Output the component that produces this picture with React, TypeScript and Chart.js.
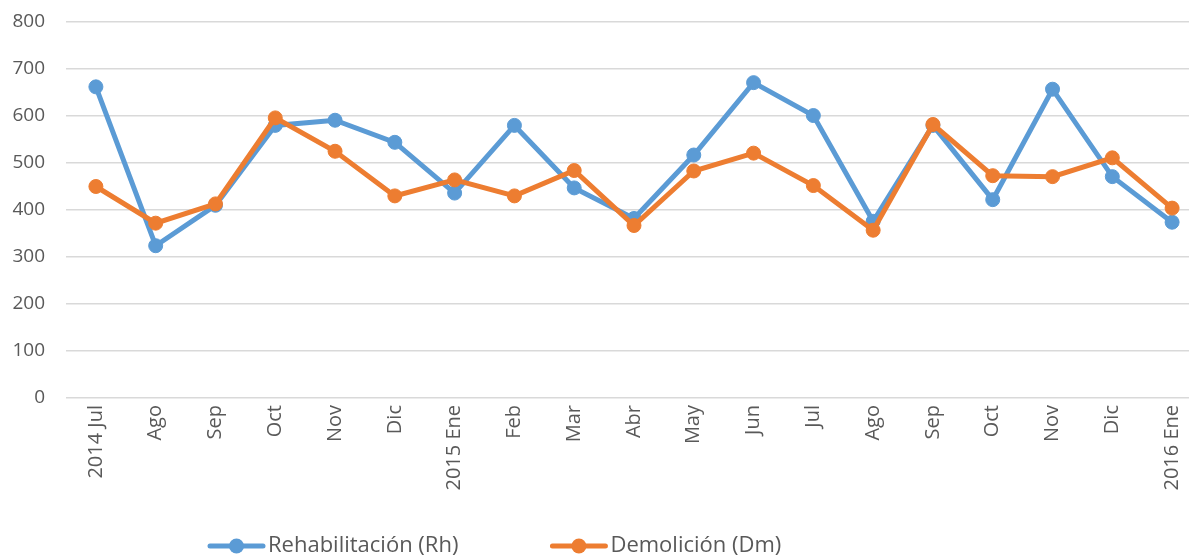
import React, { useEffect, useRef } from "react";
import { Chart, registerables } from "chart.js";

Chart.register(...registerables);

const categories = [
  "2014 Jul", "Ago", "Sep", "Oct", "Nov", "Dic",
  "2015 Ene", "Feb", "Mar", "Abr", "May", "Jun", "Jul", "Ago", "Sep", "Oct", "Nov", "Dic",
  "2016 Ene",
];

const rehabilitacion = [662, 324, 410, 580, 591, 544, 436, 580, 447, 382, 517, 671, 601, 376, 580, 422, 657, 471, 374];
const demolicion = [450, 372, 413, 596, 525, 430, 464, 430, 484, 367, 483, 521, 452, 357, 582, 473, 471, 511, 404];

const yTicks = { min: 0, max: 800, step: 100 };

const BLUE = "#5B9BD5";
const ORANGE = "#ED7D31";
const TEXT = "#595959";
const FONT = "'Open Sans', sans-serif";

const legendPlugin = {
  id: "bottomLegend",
  afterDraw(chart: any) {
    const ctx = chart.ctx;
    const y = 546;
    let x = 208;
    ctx.save();
    ctx.font = `22px ${FONT}`;
    ctx.textBaseline = "middle";
    ctx.textAlign = "left";
    chart.data.datasets.forEach((ds: any) => {
      ctx.strokeStyle = ds.borderColor;
      ctx.lineWidth = 5;
      ctx.lineCap = "round";
      ctx.beginPath();
      ctx.moveTo(x + 2, y);
      ctx.lineTo(x + 55, y);
      ctx.stroke();
      ctx.fillStyle = ds.backgroundColor;
      ctx.beginPath();
      ctx.arc(x + 28.5, y, 7.5, 0, Math.PI * 2);
      ctx.fill();
      ctx.fillStyle = TEXT;
      ctx.fillText(ds.label, x + 60, y);
      const w = ctx.measureText(ds.label).width;
      x += 60 + w + 92;
    });
    ctx.restore();
  },
};

export default function App() {
  const ref = useRef<HTMLCanvasElement | null>(null);

  useEffect(() => {
    if (!ref.current) return;
    const chart = new Chart(ref.current, {
      type: "line",
      data: {
        labels: categories,
        datasets: [
          {
            label: "Rehabilitación (Rh)",
            data: rehabilitacion,
            borderColor: BLUE,
            backgroundColor: BLUE,
            borderWidth: 5,
            pointRadius: 7,
            pointBorderWidth: 1,
            pointBorderColor: BLUE,
            pointBackgroundColor: BLUE,
            tension: 0,
            order: 1,
          },
          {
            label: "Demolición (Dm)",
            data: demolicion,
            borderColor: ORANGE,
            backgroundColor: ORANGE,
            borderWidth: 5,
            pointRadius: 7,
            pointBorderWidth: 1,
            pointBorderColor: ORANGE,
            pointBackgroundColor: ORANGE,
            tension: 0,
            order: 0,
          },
        ],
      },
      options: {
        responsive: false,
        animation: false,
        layout: { padding: { top: 22, right: 4, left: 0, bottom: 0 } },
        plugins: {
          legend: { display: false },
          tooltip: { enabled: false },
        },
        scales: {
          x: {
            type: "category",
            offset: true,
            grid: { display: false, drawTicks: false },
            border: { display: false },
            ticks: {
              autoSkip: false,
              minRotation: 90,
              maxRotation: 90,
              padding: 7,
              color: TEXT,
              font: { family: FONT, size: 20 },
            },
            afterFit: (scale: any) => {
              scale.height = 161;
              scale.paddingTop = 0;
              scale.paddingBottom = 0;
            },
          },
          y: {
            min: yTicks.min,
            max: yTicks.max,
            ticks: {
              stepSize: yTicks.step,
              padding: 21,
              color: TEXT,
              font: { family: FONT, size: 19 },
            },
            grid: { color: "#D9D9D9", lineWidth: 1.5, drawTicks: false },
            border: { display: false },
            afterFit: (scale: any) => {
              scale.width = 66;
              scale.paddingTop = 0;
              scale.paddingBottom = 0;
            },
          },
        },
      },
      plugins: [legendPlugin],
    });
    return () => chart.destroy();
  }, []);

  return (
    <div
      style={{
        position: "absolute",
        left: 0,
        top: 0,
        width: 1189,
        height: 559,
        overflow: "hidden",
        background: "#fff",
      }}
    >
      <canvas ref={ref} width={1210} height={559} style={{ display: "block" }} />
    </div>
  );
}
